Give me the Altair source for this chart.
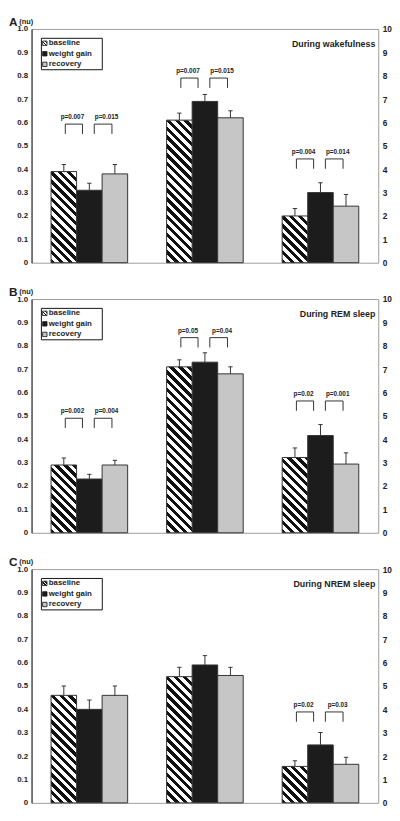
import altair as alt
import pandas as pd

# ---------------- data ----------------
groups = ["HF nu", "LF nu", "LF/HF"]
conditions = ["baseline", "weight gain", "recovery"]
panel_letters = ["A", "B", "C"]
panel_states = ["During wakefulness", "During REM sleep", "During NREM sleep"]

# means: rows = [HF nu, LF nu, LF/HF], cols = [baseline, weight gain, recovery]
mean_A = [[0.39, 0.31, 0.38], [0.61, 0.69, 0.62], [2.00, 3.00, 2.42]]
se_A = [[0.03, 0.03, 0.04], [0.03, 0.03, 0.03], [0.32, 0.42, 0.50]]
mean_B = [[0.29, 0.23, 0.29], [0.71, 0.73, 0.68], [3.22, 4.16, 2.94]]
se_B = [[0.03, 0.02, 0.02], [0.03, 0.04, 0.03], [0.41, 0.47, 0.48]]
mean_C = [[0.46, 0.40, 0.46], [0.54, 0.59, 0.545], [1.56, 2.48, 1.65]]
se_C = [[0.04, 0.04, 0.04], [0.04, 0.04, 0.035], [0.24, 0.53, 0.30]]

# significance brackets: group, height (axis units), labels (baseline-wg, wg-recovery)
pgroups_A = ["HF nu", "LF nu", "LF/HF"]
ptops_A = [0.593, 0.79, 4.44]
plabels_A = [["p=0.007", "p=0.015"], ["p=0.007", "p=0.015"], ["p=0.004", "p=0.014"]]
pgroups_B = ["HF nu", "LF nu", "LF/HF"]
ptops_B = [0.49, 0.835, 5.64]
plabels_B = [["p=0.002", "p=0.004"], ["p=0.05", "p=0.04"], ["p=0.02", "p=0.001"]]
pgroups_C = ["LF/HF"]
ptops_C = [3.89]
plabels_C = [["p=0.02", "p=0.03"]]

left_ticks = [0, 0.1, 0.2, 0.3, 0.4, 0.5, 0.6, 0.7, 0.8, 0.9, 1.0]

# ---------------- layout / style ----------------
W, H = 353, 238
UNIT = W / 3.0
BARW = 26 / UNIT
CAP = 2.2 / UNIT
LEG = 10 / H
XS = alt.Scale(domain=[-0.5, 2.5], nice=False, zero=False)
YS = alt.Scale(domain=[0, 1], nice=False, zero=True)
FONT = "Liberation Sans"
TXT = "#222222"
DARK = "#1c1c1c"
GRAY = "#c6c6c6"
EDGE = "#333333"


def hatch(w, h, period=9.0, frac=0.5):
    S = w + h
    k = S / (w * w + h * h)
    stops = []
    i = 0
    while i * period / S < 1:
        a = i * period / S
        b = min((i * period + period * frac) / S, 1)
        c = min((i + 1) * period / S, 1)
        stops += [alt.GradientStop(offset=a, color="#111111"),
                  alt.GradientStop(offset=b, color="#111111"),
                  alt.GradientStop(offset=b, color="#ffffff"),
                  alt.GradientStop(offset=c, color="#ffffff")]
        i += 1
    return alt.LinearGradient(gradient="linear", stops=stops,
                              x1=0, y1=1, x2=w * k, y2=1 - h * k)


def factor(g):
    return 0.1 if g == "LF/HF" else 1.0


one = pd.DataFrame({"a": [0]})

x_label_expr = "datum.value == 0 ? '%s' : datum.value == 1 ? '%s' : '%s'" % tuple(groups)


def make_panel(letter, state, means, ses, pgroups, ptops, plabels):
    rows = []
    for gi, g in enumerate(groups):
        f = factor(g)
        for ci, c in enumerate(conditions):
            xc = gi + (ci - 1) * BARW
            rows.append(dict(group=g, cond=c, gi=gi, xc=xc,
                             xl=xc - BARW / 2, xr=xc + BARW / 2,
                             cl=xc - CAP, cr=xc + CAP,
                             m=means[gi][ci] * f,
                             top=(means[gi][ci] + ses[gi][ci]) * f,
                             zero=0.0))
    df = pd.DataFrame(rows)

    xaxis = alt.Axis(values=[0, 1, 2], labelExpr=x_label_expr, title=None,
                     ticks=False, grid=False, domainColor="#444444",
                     labelFont=FONT, labelFontWeight="bold", labelFontSize=8,
                     labelColor=TXT, labelPadding=4)
    yleft = alt.Axis(values=left_ticks, orient="left", title=None, ticks=False,
                     grid=False, domainColor="#222222",
                     labelExpr="datum.value == 0 ? '0' : format(datum.value, '.1f')",
                     labelFont=FONT, labelFontWeight="bold", labelFontSize=8,
                     labelColor=TXT, labelPadding=4)
    yright = alt.Axis(values=left_ticks, orient="right", title=None, ticks=False,
                      grid=False, domain=False,
                      labelExpr="format(datum.value * 10, '.0f')",
                      labelFont=FONT, labelFontWeight="bold", labelFontSize=8.5,
                      labelColor=TXT, labelPadding=4)

    layers = []
    solid = alt.Chart(df).transform_filter(alt.datum.cond != "baseline").mark_rect(
        stroke=EDGE, strokeWidth=1).encode(
        x=alt.X("xl:Q", scale=XS, axis=xaxis), x2="xr",
        y=alt.Y("m:Q", scale=YS, axis=yleft), y2="zero",
        fill=alt.Fill("cond:N", scale=alt.Scale(domain=["weight gain", "recovery"],
                                                range=[DARK, GRAY]), legend=None))
    layers.append(solid)

    for gi, g in enumerate(groups):
        mval = means[gi][0] * factor(g)
        grad = hatch(26.0, mval * H)
        b = alt.Chart(df).transform_filter(
            (alt.datum.cond == "baseline") & (alt.datum.gi == gi)).mark_rect(
            fill=grad, stroke=EDGE, strokeWidth=1).encode(
            x=alt.X("xl:Q", scale=XS, axis=None), x2="xr",
            y=alt.Y("m:Q", scale=YS, axis=None), y2="zero")
        layers.append(b)

    err = alt.Chart(df).mark_rule(color=EDGE, strokeWidth=1).encode(
        x=alt.X("xc:Q", scale=XS, axis=None),
        y=alt.Y("m:Q", scale=YS, axis=None), y2="top")
    cap = alt.Chart(df).mark_rule(color=EDGE, strokeWidth=1).encode(
        x=alt.X("cl:Q", scale=XS, axis=None), x2="cr",
        y=alt.Y("top:Q", scale=YS, axis=yright))
    layers += [err, cap]

    brows = []
    for g, t, labs in zip(pgroups, ptops, plabels):
        gi = groups.index(g)
        yt = t * factor(g)
        spans = [(-24.5, -7.0, -1.5), (5.0, 23.0, 3.5)]
        for (a, b_, dxt), lab in zip(spans, labs):
            xa = gi + a / UNIT
            xb = gi + b_ / UNIT
            brows.append(dict(xa=xa, xb=xb, xt=(xa + xb) / 2 + dxt / UNIT,
                              ytop=yt, ybot=yt - LEG, label=lab))
    bdf = pd.DataFrame(brows)
    bx = dict(scale=XS, axis=None)
    by = dict(scale=YS, axis=None)
    layers += [
        alt.Chart(bdf).mark_rule(color=EDGE, strokeWidth=1).encode(
            x=alt.X("xa:Q", **bx), x2="xb", y=alt.Y("ytop:Q", **by)),
        alt.Chart(bdf).mark_rule(color=EDGE, strokeWidth=1).encode(
            x=alt.X("xa:Q", **bx), y=alt.Y("ybot:Q", **by), y2="ytop"),
        alt.Chart(bdf).mark_rule(color=EDGE, strokeWidth=1).encode(
            x=alt.X("xb:Q", **bx), y=alt.Y("ybot:Q", **by), y2="ytop"),
        alt.Chart(bdf).mark_text(font=FONT, fontWeight="bold", fontSize=6.5,
                                 color=TXT, baseline="bottom", dy=-4).encode(
            x=alt.X("xt:Q", **bx), y=alt.Y("ytop:Q", **by), text="label:N"),
    ]

    # legend box
    layers.append(alt.Chart(one).mark_rect(fill="white", stroke="#111111", strokeWidth=1).encode(
        x=alt.value(10), x2=alt.value(72), y=alt.value(9.5), y2=alt.value(41.5)))
    sym_fill = [hatch(4.5, 4.5, period=3.0), DARK, GRAY]
    for i, c in enumerate(conditions):
        py = 14.5 + i * 10.75
        layers.append(alt.Chart(one).mark_square(size=20, fill=sym_fill[i], fillOpacity=1,
                                                 stroke="#111111", strokeWidth=0.8).encode(
            x=alt.value(13.5), y=alt.value(py)))
        layers.append(alt.Chart(one).mark_text(font=FONT, fontWeight="bold", fontSize=8,
                                               color=TXT, align="left", baseline="middle").encode(
            x=alt.value(17.5), y=alt.value(py), text=alt.value(c)))

    # titles
    layers.append(alt.Chart(one).mark_text(font=FONT, fontWeight="bold", fontSize=12,
                                           color=TXT, align="left", baseline="top").encode(
        x=alt.value(-23), y=alt.value(-12), text=alt.value(letter)))
    layers.append(alt.Chart(one).mark_text(font=FONT, fontWeight="bold", fontSize=7.5,
                                           color=TXT, align="left", baseline="top").encode(
        x=alt.value(-12.5), y=alt.value(-11.5), text=alt.value("(nu)")))
    layers.append(alt.Chart(one).mark_text(font=FONT, fontWeight="bold", fontSize=9,
                                           color=TXT, align="right", baseline="middle").encode(
        x=alt.value(350), y=alt.value(15), text=alt.value(state)))

    return alt.layer(*layers).resolve_axis(y="independent").properties(width=W, height=H)


pA = make_panel("A", panel_states[0], mean_A, se_A, pgroups_A, ptops_A, plabels_A)
pB = make_panel("B", panel_states[1], mean_B, se_B, pgroups_B, ptops_B, plabels_B)
pC = make_panel("C", panel_states[2], mean_C, se_C, pgroups_C, ptops_C, plabels_C)

chart = alt.vconcat(pA, pB, pC, spacing=37, bounds="flush").properties(
    padding=0, background="white"
).configure_view(stroke="#9c9c9c", strokeWidth=1)

chart.save("out.html", embed_options={"renderer": "svg", "actions": False})
